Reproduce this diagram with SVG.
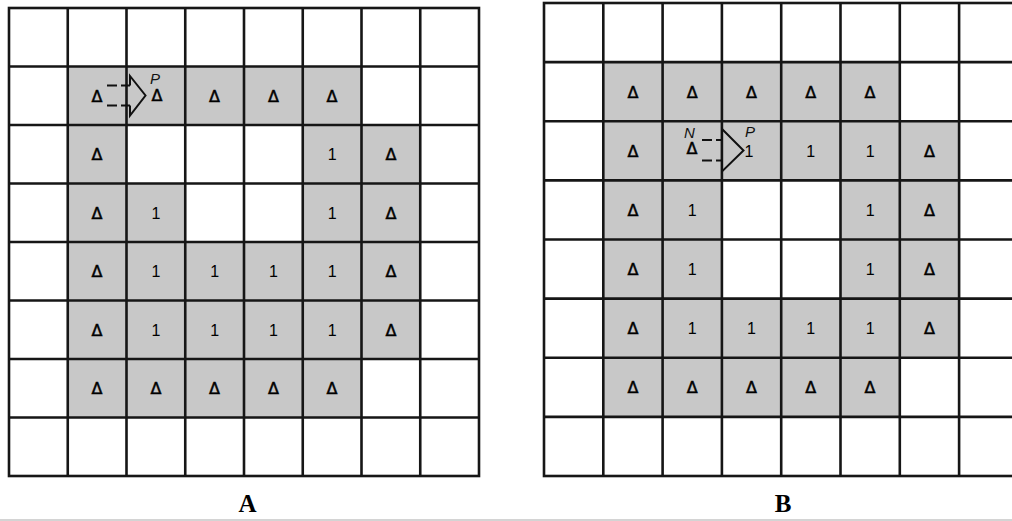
<svg xmlns="http://www.w3.org/2000/svg" width="1012" height="521" viewBox="0 0 1012 521">
<defs>
<style>
.cellA{fill:#c8c8c8}
.cellB{fill:#c8c8c8}
.grid{fill:none;stroke:#161616;stroke-width:2.6}
.tri{font-family:"DejaVu Sans",sans-serif;font-size:16px;text-anchor:middle;fill:#000;stroke:#000;stroke-width:0.5}
.one{font-family:"Liberation Sans",Arial,sans-serif;font-size:16px;text-anchor:middle;fill:#000}
.lbl{font-family:"Liberation Sans",Arial,sans-serif;font-style:italic;font-size:15px;fill:#111}
.cap{font-family:"Liberation Serif","Times New Roman",serif;font-weight:bold;font-size:25px;text-anchor:middle;fill:#000}
.dash{fill:none;stroke:#111;stroke-width:2;stroke-dasharray:10 4}
.head{fill:none;stroke:#111;stroke-width:2;stroke-linejoin:miter}
</style>
</defs>
<rect width="1012" height="521" fill="#fff"/>

<g id="panelA-cells">
<g id="A-r1c1"><rect class="cellA" x="67.75" y="66.5" width="58.75" height="58.5"/><text class="tri" x="97.1" y="101.5">Δ</text></g>
<g id="A-r1c2"><rect class="cellA" x="126.5" y="66.5" width="58.75" height="58.5"/><text class="lbl" x="150" y="83.5">P</text><text class="tri" x="157" y="100.5">Δ</text></g>
<g id="A-r1c3"><rect class="cellA" x="185.25" y="66.5" width="58.75" height="58.5"/><text class="tri" x="214.6" y="101.5">Δ</text></g>
<g id="A-r1c4"><rect class="cellA" x="244" y="66.5" width="58.75" height="58.5"/><text class="tri" x="273.4" y="101.5">Δ</text></g>
<g id="A-r1c5"><rect class="cellA" x="302.75" y="66.5" width="58.75" height="58.5"/><text class="tri" x="332.1" y="101.5">Δ</text></g>

<g id="A-r2c1"><rect class="cellA" x="67.75" y="125" width="58.75" height="58.5"/><text class="tri" x="97.1" y="160">Δ</text></g>
<g id="A-r2c5"><rect class="cellA" x="302.75" y="125" width="58.75" height="58.5"/><text class="one" x="332.1" y="160">1</text></g>
<g id="A-r2c6"><rect class="cellA" x="361.5" y="125" width="58.75" height="58.5"/><text class="tri" x="390.9" y="160">Δ</text></g>

<g id="A-r3c1"><rect class="cellA" x="67.75" y="183.5" width="58.75" height="58.5"/><text class="tri" x="97.1" y="218.5">Δ</text></g>
<g id="A-r3c2"><rect class="cellA" x="126.5" y="183.5" width="58.75" height="58.5"/><text class="one" x="155.9" y="218.5">1</text></g>
<g id="A-r3c5"><rect class="cellA" x="302.75" y="183.5" width="58.75" height="58.5"/><text class="one" x="332.1" y="218.5">1</text></g>
<g id="A-r3c6"><rect class="cellA" x="361.5" y="183.5" width="58.75" height="58.5"/><text class="tri" x="390.9" y="218.5">Δ</text></g>

<g id="A-r4c1"><rect class="cellA" x="67.75" y="242" width="58.75" height="58.5"/><text class="tri" x="97.1" y="277">Δ</text></g>
<g id="A-r4c2"><rect class="cellA" x="126.5" y="242" width="58.75" height="58.5"/><text class="one" x="155.9" y="277">1</text></g>
<g id="A-r4c3"><rect class="cellA" x="185.25" y="242" width="58.75" height="58.5"/><text class="one" x="214.6" y="277">1</text></g>
<g id="A-r4c4"><rect class="cellA" x="244" y="242" width="58.75" height="58.5"/><text class="one" x="273.4" y="277">1</text></g>
<g id="A-r4c5"><rect class="cellA" x="302.75" y="242" width="58.75" height="58.5"/><text class="one" x="332.1" y="277">1</text></g>
<g id="A-r4c6"><rect class="cellA" x="361.5" y="242" width="58.75" height="58.5"/><text class="tri" x="390.9" y="277">Δ</text></g>

<g id="A-r5c1"><rect class="cellA" x="67.75" y="300.5" width="58.75" height="58.5"/><text class="tri" x="97.1" y="335.5">Δ</text></g>
<g id="A-r5c2"><rect class="cellA" x="126.5" y="300.5" width="58.75" height="58.5"/><text class="one" x="155.9" y="335.5">1</text></g>
<g id="A-r5c3"><rect class="cellA" x="185.25" y="300.5" width="58.75" height="58.5"/><text class="one" x="214.6" y="335.5">1</text></g>
<g id="A-r5c4"><rect class="cellA" x="244" y="300.5" width="58.75" height="58.5"/><text class="one" x="273.4" y="335.5">1</text></g>
<g id="A-r5c5"><rect class="cellA" x="302.75" y="300.5" width="58.75" height="58.5"/><text class="one" x="332.1" y="335.5">1</text></g>
<g id="A-r5c6"><rect class="cellA" x="361.5" y="300.5" width="58.75" height="58.5"/><text class="tri" x="390.9" y="335.5">Δ</text></g>

<g id="A-r6c1"><rect class="cellA" x="67.75" y="359" width="58.75" height="58.5"/><text class="tri" x="97.1" y="394">Δ</text></g>
<g id="A-r6c2"><rect class="cellA" x="126.5" y="359" width="58.75" height="58.5"/><text class="tri" x="155.9" y="394">Δ</text></g>
<g id="A-r6c3"><rect class="cellA" x="185.25" y="359" width="58.75" height="58.5"/><text class="tri" x="214.6" y="394">Δ</text></g>
<g id="A-r6c4"><rect class="cellA" x="244" y="359" width="58.75" height="58.5"/><text class="tri" x="273.4" y="394">Δ</text></g>
<g id="A-r6c5"><rect class="cellA" x="302.75" y="359" width="58.75" height="58.5"/><text class="tri" x="332.1" y="394">Δ</text></g>
</g>

<g id="panelB-cells">
<g id="B-r1c1"><rect class="cellB" x="603.3" y="62.1" width="59.3" height="59.125"/><text class="tri" x="633" y="97.5">Δ</text></g>
<g id="B-r1c2"><rect class="cellB" x="662.6" y="62.1" width="59.3" height="59.125"/><text class="tri" x="692.2" y="97.5">Δ</text></g>
<g id="B-r1c3"><rect class="cellB" x="721.9" y="62.1" width="59.3" height="59.125"/><text class="tri" x="751.5" y="97.5">Δ</text></g>
<g id="B-r1c4"><rect class="cellB" x="781.2" y="62.1" width="59.3" height="59.125"/><text class="tri" x="810.8" y="97.5">Δ</text></g>
<g id="B-r1c5"><rect class="cellB" x="840.5" y="62.1" width="59.3" height="59.125"/><text class="tri" x="870.1" y="97.5">Δ</text></g>

<g id="B-r2c1"><rect class="cellB" x="603.3" y="121.25" width="59.3" height="59.125"/><text class="tri" x="633" y="156.5">Δ</text></g>
<g id="B-r2c2"><rect class="cellB" x="662.6" y="121.25" width="59.3" height="59.125"/><text class="lbl" x="684" y="137.5">N</text><text class="tri" x="692" y="154">Δ</text></g>
<g id="B-r2c3"><rect class="cellB" x="721.9" y="121.25" width="59.3" height="59.125"/><text class="lbl" x="745" y="137">P</text><text class="one" x="749" y="156.5">1</text></g>
<g id="B-r2c4"><rect class="cellB" x="781.2" y="121.25" width="59.3" height="59.125"/><text class="one" x="810.8" y="156.6">1</text></g>
<g id="B-r2c5"><rect class="cellB" x="840.5" y="121.25" width="59.3" height="59.125"/><text class="one" x="870.1" y="156.6">1</text></g>
<g id="B-r2c6"><rect class="cellB" x="899.8" y="121.25" width="59.3" height="59.125"/><text class="tri" x="929.4" y="156.5">Δ</text></g>

<g id="B-r3c1"><rect class="cellB" x="603.3" y="180.4" width="59.3" height="59.125"/><text class="tri" x="633" y="215.5">Δ</text></g>
<g id="B-r3c2"><rect class="cellB" x="662.6" y="180.4" width="59.3" height="59.125"/><text class="one" x="692.2" y="215.7">1</text></g>
<g id="B-r3c5"><rect class="cellB" x="840.5" y="180.4" width="59.3" height="59.125"/><text class="one" x="870.1" y="215.7">1</text></g>
<g id="B-r3c6"><rect class="cellB" x="899.8" y="180.4" width="59.3" height="59.125"/><text class="tri" x="929.4" y="215.5">Δ</text></g>

<g id="B-r4c1"><rect class="cellB" x="603.3" y="239.5" width="59.3" height="59.125"/><text class="tri" x="633" y="274.5">Δ</text></g>
<g id="B-r4c2"><rect class="cellB" x="662.6" y="239.5" width="59.3" height="59.125"/><text class="one" x="692.2" y="274.8">1</text></g>
<g id="B-r4c5"><rect class="cellB" x="840.5" y="239.5" width="59.3" height="59.125"/><text class="one" x="870.1" y="274.8">1</text></g>
<g id="B-r4c6"><rect class="cellB" x="899.8" y="239.5" width="59.3" height="59.125"/><text class="tri" x="929.4" y="274.5">Δ</text></g>

<g id="B-r5c1"><rect class="cellB" x="603.3" y="298.6" width="59.3" height="59.125"/><text class="tri" x="633" y="333.7">Δ</text></g>
<g id="B-r5c2"><rect class="cellB" x="662.6" y="298.6" width="59.3" height="59.125"/><text class="one" x="692.2" y="334">1</text></g>
<g id="B-r5c3"><rect class="cellB" x="721.9" y="298.6" width="59.3" height="59.125"/><text class="one" x="751.5" y="334">1</text></g>
<g id="B-r5c4"><rect class="cellB" x="781.2" y="298.6" width="59.3" height="59.125"/><text class="one" x="810.8" y="334">1</text></g>
<g id="B-r5c5"><rect class="cellB" x="840.5" y="298.6" width="59.3" height="59.125"/><text class="one" x="870.1" y="334">1</text></g>
<g id="B-r5c6"><rect class="cellB" x="899.8" y="298.6" width="59.3" height="59.125"/><text class="tri" x="929.4" y="333.7">Δ</text></g>

<g id="B-r6c1"><rect class="cellB" x="603.3" y="357.75" width="59.3" height="59.125"/><text class="tri" x="633" y="392.8">Δ</text></g>
<g id="B-r6c2"><rect class="cellB" x="662.6" y="357.75" width="59.3" height="59.125"/><text class="tri" x="692.2" y="392.8">Δ</text></g>
<g id="B-r6c3"><rect class="cellB" x="721.9" y="357.75" width="59.3" height="59.125"/><text class="tri" x="751.5" y="392.8">Δ</text></g>
<g id="B-r6c4"><rect class="cellB" x="781.2" y="357.75" width="59.3" height="59.125"/><text class="tri" x="810.8" y="392.8">Δ</text></g>
<g id="B-r6c5"><rect class="cellB" x="840.5" y="357.75" width="59.3" height="59.125"/><text class="tri" x="870.1" y="392.8">Δ</text></g>
</g>

<g id="gridA" class="grid">
<rect x="9" y="8" width="470" height="468"/>
<path d="M67.75 8V476M126.5 8V476M185.25 8V476M244 8V476M302.75 8V476M361.5 8V476M420.25 8V476M9 66.5H479M9 125H479M9 183.5H479M9 242H479M9 300.5H479M9 359H479M9 417.5H479"/>
</g>
<g id="gridB" class="grid">
<rect x="544" y="3" width="474.4" height="473"/>
<path d="M603.3 3V476M662.6 3V476M721.9 3V476M781.2 3V476M840.5 3V476M899.8 3V476M959.1 3V476M544 62.1H1018M544 121.25H1018M544 180.4H1018M544 239.5H1018M544 298.6H1018M544 357.75H1018M544 416.9H1018"/>
</g>

<g id="connectors">
<g id="arrowA">
<path class="dash" d="M107 85.5H130M107 105.5H130"/>
<path class="head" d="M130 85.5V76L145.5 95.5L130 115.5V105.5"/>
</g>
<g id="arrowB">
<path class="dash" d="M702 140H722M702 160.5H722"/>
<path class="head" d="M722 140V129L743.5 150.5L722 171.5V160.5"/>
</g>
</g>

<g id="captions">
<text class="cap" x="247.5" y="512">A</text>
<text class="cap" x="783" y="512">B</text>
</g>
<line x1="0" y1="520" x2="1012" y2="520" stroke="#d4d4d4" stroke-width="2"/>
</svg>
